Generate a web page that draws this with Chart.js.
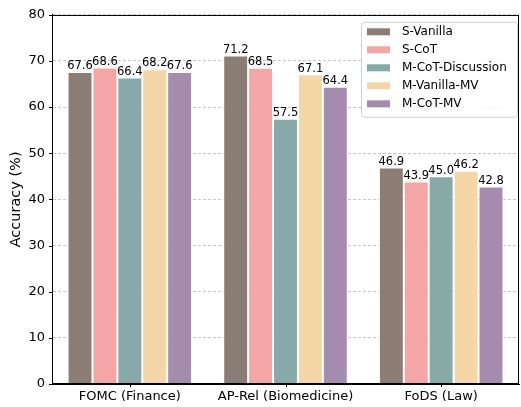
<!DOCTYPE html>
<html>
<head>
<meta charset="utf-8">
<script src="https://cdn.jsdelivr.net/npm/chart.js@4.4.1/dist/chart.umd.min.js"></script>
<style>
  html, body { margin: 0; padding: 0; background: #ffffff; }
  #wrap { width: 521px; height: 407px; position: relative; }
</style>
</head>
<body>
<div id="wrap"><canvas id="chart"></canvas></div>
<script>
// Benchmarks on the x axis
const categories = ['FOMC (Finance)', 'AP-Rel (Biomedicine)', 'FoDS (Law)'];

// Accuracy (%) per method, one value per benchmark
const sVanilla       = [67.6, 71.2, 46.9];
const sCoT           = [68.6, 68.5, 43.9];
const mCoTDiscussion = [66.4, 57.5, 45.0];
const mVanillaMV     = [68.2, 67.1, 46.2];
const mCoTMV         = [67.6, 64.4, 42.8];

const seriesNames = ['S-Vanilla', 'S-CoT', 'M-CoT-Discussion', 'M-Vanilla-MV', 'M-CoT-MV'];
const seriesColors = ['#8b7d73', '#f4a5a5', '#87aaa8', '#f5d6a6', '#a58bae'];
const yTicks = [0, 10, 20, 30, 40, 50, 60, 70, 80];

const FONT = "'DejaVu Sans', sans-serif";

const seriesValues = [sVanilla, sCoT, mCoTDiscussion, mVanillaMV, mCoTMV];
const datasets = seriesValues.map((vals, i) => ({
  label: seriesNames[i],
  data: vals,
  backgroundColor: seriesColors[i],
  borderColor: '#ffffff',
  borderWidth: 1,
  categoryPercentage: 0.8,
  barPercentage: 1.0
}));

// Value labels above each bar
const valueLabels = {
  id: 'valueLabels',
  afterDatasetsDraw(chart) {
    const ctx = chart.ctx;
    ctx.save();
    ctx.font = '11.5px ' + FONT;
    ctx.fillStyle = '#000000';
    ctx.textAlign = 'center';
    ctx.textBaseline = 'bottom';
    chart.data.datasets.forEach((ds, di) => {
      chart.getDatasetMeta(di).data.forEach((bar, j) => {
        ctx.fillText(ds.data[j].toFixed(1), bar.x, bar.y);
      });
    });
    ctx.restore();
  }
};

// Full box around the plot area plus outward tick marks
const frame = {
  id: 'frame',
  afterDraw(chart) {
    const a = chart.chartArea;
    const ctx = chart.ctx;
    const L = Math.round(a.left) + 0.5, T = Math.round(a.top) + 0.5;
    const R = Math.round(a.right) - 0.5, B = Math.round(a.bottom) - 0.5;
    ctx.save();
    ctx.strokeStyle = '#000000';
    ctx.lineWidth = 1;
    ctx.strokeRect(L, T, R - L, B - T);
    ctx.beginPath();
    const ys = chart.scales.y;
    ys.ticks.forEach(t => {
      const y = Math.round(ys.getPixelForValue(t.value)) + 0.5;
      ctx.moveTo(L - 3.5, y);
      ctx.lineTo(L, y);
    });
    const xs = chart.scales.x;
    categories.forEach((c, i) => {
      const x = Math.round(xs.getPixelForValue(i)) + 0.5;
      ctx.moveTo(x, B);
      ctx.lineTo(x, B + 3.5);
    });
    ctx.stroke();
    ctx.restore();
  }
};

// Legend box in the upper right corner of the plot
const innerLegend = {
  id: 'innerLegend',
  afterDraw(chart) {
    const a = chart.chartArea;
    const ctx = chart.ctx;
    const boxW = 156, boxH = 95;
    const x0 = a.right - 2 - boxW, y0 = a.top + 7;
    ctx.save();
    ctx.fillStyle = 'rgba(255,255,255,0.85)';
    ctx.strokeStyle = '#d0d0d0';
    ctx.lineWidth = 1;
    ctx.beginPath();
    if (ctx.roundRect) ctx.roundRect(x0 + 0.5, y0 + 0.5, boxW, boxH, 3);
    else ctx.rect(x0 + 0.5, y0 + 0.5, boxW, boxH);
    ctx.fill();
    ctx.stroke();
    ctx.font = '12px ' + FONT;
    ctx.textBaseline = 'middle';
    ctx.textAlign = 'left';
    chart.data.datasets.forEach((ds, i) => {
      const cy = y0 + 10 + i * 18;
      ctx.fillStyle = ds.backgroundColor;
      ctx.fillRect(x0 + 6, cy - 3.5, 23, 7);
      ctx.fillStyle = '#000000';
      ctx.fillText(ds.label, x0 + 41, cy);
    });
    ctx.restore();
  }
};

new Chart(document.getElementById('chart'), {
  type: 'bar',
  data: { labels: categories, datasets },
  options: {
    responsive: true,
    maintainAspectRatio: false,
    animation: false,
    layout: { padding: { left: 0, right: 2, top: 10, bottom: 0 } },
    plugins: {
      legend: { display: false },
      tooltip: { enabled: false }
    },
    scales: {
      x: {
        grid: { display: false, drawTicks: true, tickLength: 4 },
        border: { display: true, color: '#000000' },
        ticks: { color: '#000000', font: { family: FONT, size: 13 }, padding: 1, maxRotation: 0 },
        afterFit(scale) { scale.height = 23; }
      },
      y: {
        min: 0,
        max: 80,
        afterBuildTicks(scale) { scale.ticks = yTicks.map(v => ({ value: v })); },
        grid: {
          color: '#c8c8c8',
          lineWidth: 1,
          drawTicks: false
        },
        border: { display: true, color: '#000000', dash: [3, 2] },
        ticks: { color: '#000000', font: { family: FONT, size: 13 }, padding: 7 },
        title: {
          display: true,
          text: 'Accuracy (%)',
          color: '#000000',
          font: { family: FONT, size: 14.5 },
          padding: { top: 8, bottom: 0 }
        },
        afterFit(scale) { scale.width = 52; }
      }
    }
  },
  plugins: [valueLabels, frame, innerLegend]
});
</script>
</body>
</html>
